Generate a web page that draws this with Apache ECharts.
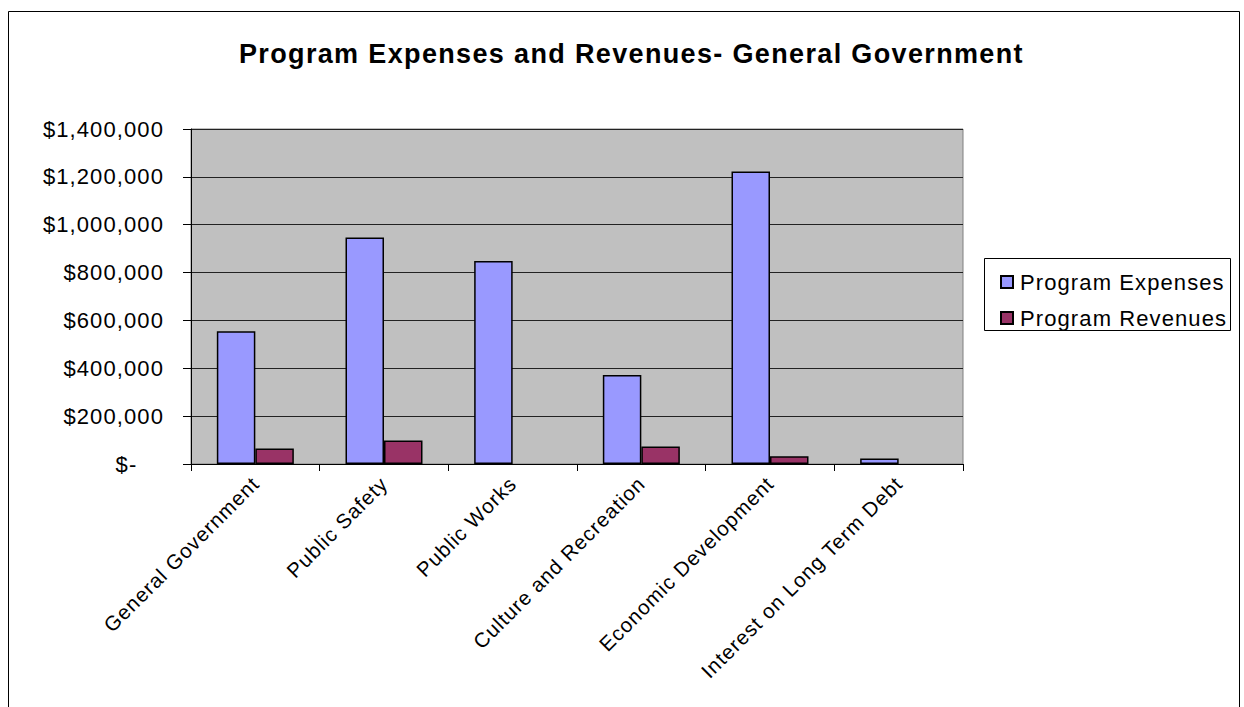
<!DOCTYPE html>
<html>
<head>
<meta charset="utf-8">
<script src="https://cdn.jsdelivr.net/npm/echarts@6/dist/echarts.min.js"></script>
<style>
html,body{margin:0;padding:0;background:#fff;}
#c{width:1244px;height:707px;}
#c text{letter-spacing:0.05em;}
</style>
</head>
<body>
<div id="c"></div>
<script>
var categories = ['General Government','Public Safety','Public Works','Culture and Recreation','Economic Development','Interest on Long Term Debt'];
var expenses = [555000, 947000, 848000, 372000, 1222000, 23000];
var revenues = [65000, 98000, null, 73000, 32000, null];
var seriesNames = ['Program Expenses','Program Revenues'];
var titleText = 'Program Expenses and Revenues- General Government';

var chart = echarts.init(document.getElementById('c'), null, {renderer:'svg'});
var font = 'Liberation Sans, Arial, sans-serif';
chart.setOption({
  animation:false,
  backgroundColor:'#fff',
  title:{text:titleText,left:234,top:35,textStyle:{fontFamily:font,fontSize:27,fontWeight:'bold',color:'#000'}},
  graphic:[
    {type:'rect',shape:{x:8.5,y:11.5,width:1231,height:720},style:{fill:'none',stroke:'#000',lineWidth:1},z:-1},
    {type:'rect',shape:{x:984.5,y:258.5,width:246,height:72},style:{fill:'#fff',stroke:'#000',lineWidth:1},z:-1}
  ],
  legend:{orient:'vertical',left:995,top:266,itemWidth:12,itemHeight:12,itemGap:14,icon:'rect',
    textStyle:{fontFamily:font,fontSize:22,color:'#000',padding:[0,0,0,2]},data:seriesNames},
  grid:{left:191,right:281,top:129,bottom:243,show:true,backgroundColor:'#C0C0C0',borderColor:'#808080',borderWidth:1},
  xAxis:{type:'category',data:categories,
    axisLine:{lineStyle:{color:'#000',width:1}},
    axisTick:{show:true,alignWithLabel:false,length:7,lineStyle:{color:'#000'}},
    axisLabel:{rotate:45,interval:0,margin:16,fontFamily:font,fontSize:20.5,color:'#000'}},
  yAxis:{type:'value',min:0,max:1400000,interval:200000,
    axisLine:{show:true,lineStyle:{color:'#000'}},
    axisTick:{show:true,length:8,lineStyle:{color:'#000'}},
    splitLine:{lineStyle:{color:'#222',width:1}},
    axisLabel:{margin:27,fontFamily:font,fontSize:22,color:'#000',
      formatter:function(v){return v===0?'$-\u2007\u2007':'$'+v.toLocaleString('en-US');}}},
  series:[
    {name:seriesNames[0],type:'bar',data:expenses,barWidth:38.5,barGap:'0%',
     itemStyle:{color:'#9999FF',borderColor:'#000',borderWidth:1.5}},
    {name:seriesNames[1],type:'bar',data:revenues,barWidth:38.5,
     itemStyle:{color:'#993366',borderColor:'#000',borderWidth:1.5}}
  ]
});
</script>
</body>
</html>
